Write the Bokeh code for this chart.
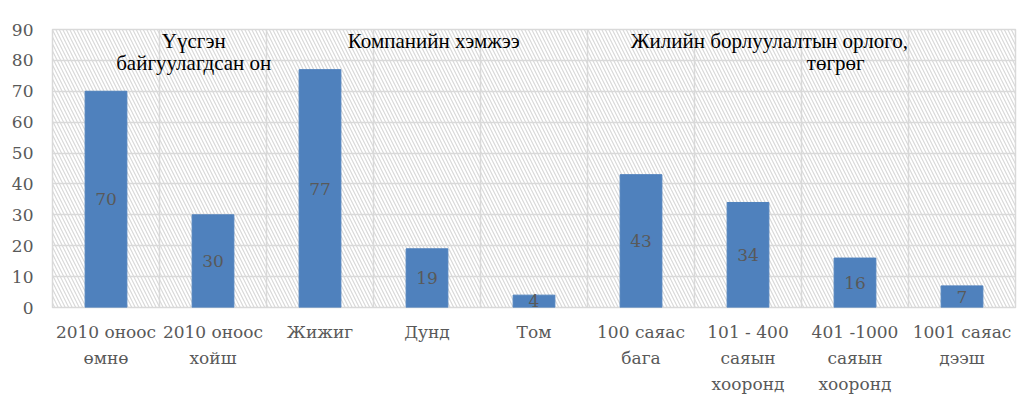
from bokeh.plotting import figure
from bokeh.models import ColumnDataSource, FixedTicker, BoxAnnotation
from bokeh.core.properties import value
from bokeh.embed import file_html
from bokeh.resources import INLINE

categories = ["2010 оноос\nөмнө", "2010 оноос\nхойш", "Жижиг", "Дунд", "Том",
              "100 саяас\nбага", "101 - 400\nсаяын\nхооронд", "401 -1000\nсаяын\nхооронд",
              "1001 саяас\nдээш"]
values = [70, 30, 77, 19, 4, 43, 34, 16, 7]
y_ticks = [0, 10, 20, 30, 40, 50, 60, 70, 80, 90]
headers = ["Үүсгэн", "байгуулагдсан он", "Компанийн хэмжээ",
           "Жилийн борлуулалтын орлого,", "төгрөг"]

n = len(categories)
xs = [i + 0.5 for i in range(n)]

SERIF = "DejaVu Serif"
HEAD = "Liberation Serif"
GRID = "#d9d9d9"
LABEL = "#595959"

p = figure(width=1018, height=411, x_range=(0, n), y_range=(0, 90),
           output_backend="svg", toolbar_location=None,
           min_border_left=52, min_border_right=3, min_border_top=29, min_border_bottom=104)
p.background_fill_color = "white"
p.border_fill_color = "white"
p.outline_line_color = GRID
p.outline_line_width = 1.5

p.add_layout(BoxAnnotation(fill_alpha=0, line_alpha=0, hatch_pattern="\\",
                           hatch_color="#d9d9d9", hatch_scale=7, hatch_weight=1.2,
                           level="underlay"))

p.xgrid.ticker = FixedTicker(ticks=list(range(n + 1)))
p.ygrid.ticker = FixedTicker(ticks=y_ticks)
p.xgrid.grid_line_color = GRID
p.ygrid.grid_line_color = GRID
p.xgrid.grid_line_width = 1.5
p.ygrid.grid_line_width = 1.5

src = ColumnDataSource(dict(x=xs, top=values, mid=[v / 2 for v in values],
                            lab=[str(v) for v in values]))
p.vbar(x="x", top="top", width=0.39, bottom=0, source=src,
       fill_color="#4F81BD", line_color="#4F81BD")
p.text(x="x", y="mid", text="lab", source=src, text_align="center",
       text_baseline="middle", text_color=LABEL, text_font=value(SERIF),
       text_font_size="17px")

# group headers
hx = [1.32, 1.32, 2.76, 6.70, 7.32]
hy = [86.4, 79.3, 86.4, 86.4, 79.3]
ha = ["center", "center", "left", "center", "center"]
p.text(x=hx, y=hy, text=headers, text_align=ha, text_baseline="middle",
       text_color="black", text_font=value(HEAD), text_font_size="21px")

for ax in (p.xaxis, p.yaxis):
    ax.axis_line_color = None
    ax.major_tick_line_color = None
    ax.minor_tick_line_color = None
    ax.major_label_text_color = LABEL
    ax.major_label_text_font = SERIF
    ax.major_label_text_font_size = "17px"

p.xaxis.ticker = FixedTicker(ticks=xs)
p.xaxis.major_label_overrides = {x: c for x, c in zip(xs, categories)}
p.xaxis.major_label_standoff = 8
p.xaxis.major_label_text_line_height = 1.3
p.yaxis.ticker = FixedTicker(ticks=y_ticks)
p.yaxis.major_label_standoff = 13

open("out.html", "w").write(file_html(p, INLINE))
